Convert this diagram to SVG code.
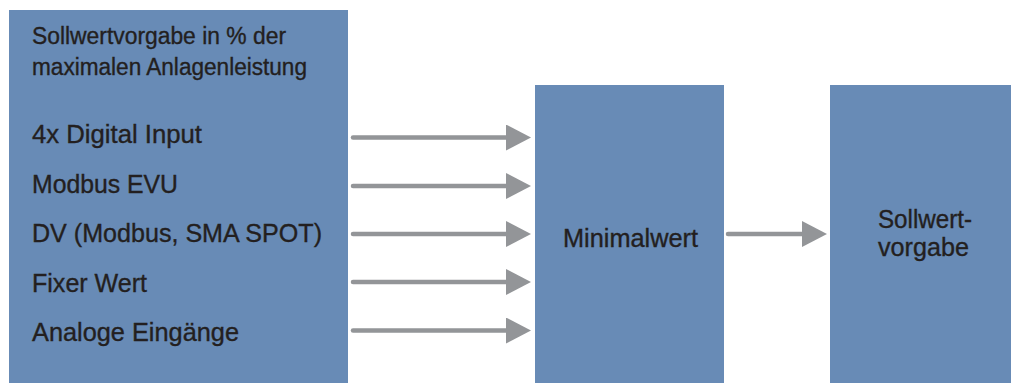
<svg xmlns="http://www.w3.org/2000/svg" width="1011" height="383" viewBox="0 0 1011 383">
<defs>
<style>
.box{fill:#688bb6}
.t{font-family:"Liberation Sans",Arial,sans-serif;font-size:25px;fill:#231f20;stroke:#231f20;stroke-width:0.35}
.h{font-size:23px}
.c line{stroke:#939598;stroke-width:4.5;stroke-linecap:round}
</style>
<marker id="ah" viewBox="0 0 25 26" refX="0" refY="13" markerWidth="25" markerHeight="26" markerUnits="userSpaceOnUse" orient="auto">
<path d="M0,0 L25,13 L0,26 Z" fill="#939598"/>
</marker>
</defs>
<rect width="1011" height="383" fill="#fff"/>
<g id="inputs">
<rect class="box" x="9" y="10" width="339" height="373"/>
<text class="t h" x="32" y="44" textLength="254" lengthAdjust="spacingAndGlyphs">Sollwertvorgabe in % der</text>
<text class="t h" x="32" y="75" textLength="275" lengthAdjust="spacingAndGlyphs">maximalen Anlagenleistung</text>
<text class="t" x="32" y="143" textLength="170" lengthAdjust="spacingAndGlyphs">4x Digital Input</text>
<text class="t" x="32" y="193" textLength="146" lengthAdjust="spacingAndGlyphs">Modbus EVU</text>
<text class="t" x="32" y="242" textLength="290" lengthAdjust="spacingAndGlyphs">DV (Modbus, SMA SPOT)</text>
<text class="t" x="32" y="292" textLength="115" lengthAdjust="spacingAndGlyphs">Fixer Wert</text>
<text class="t" x="32" y="341" textLength="207" lengthAdjust="spacingAndGlyphs">Analoge Eingänge</text>
</g>
<g id="minimalwert">
<rect class="box" x="535" y="85" width="189" height="298"/>
<text class="t" x="563" y="247" textLength="135" lengthAdjust="spacingAndGlyphs">Minimalwert</text>
</g>
<g id="sollwertvorgabe">
<rect class="box" x="830" y="85" width="181" height="298"/>
<text class="t" x="878" y="228" textLength="94" lengthAdjust="spacingAndGlyphs">Sollwert-</text>
<text class="t" x="878" y="256" textLength="91" lengthAdjust="spacingAndGlyphs">vorgabe</text>
</g>
<g class="c" id="connectors">
<line x1="353" y1="137.5" x2="506" y2="137.5" marker-end="url(#ah)"/>
<line x1="353" y1="186" x2="506" y2="186" marker-end="url(#ah)"/>
<line x1="353" y1="234" x2="506" y2="234" marker-end="url(#ah)"/>
<line x1="353" y1="282" x2="506" y2="282" marker-end="url(#ah)"/>
<line x1="353" y1="330.5" x2="506" y2="330.5" marker-end="url(#ah)"/>
<line x1="728" y1="234" x2="802" y2="234" marker-end="url(#ah)"/>
</g>
</svg>
